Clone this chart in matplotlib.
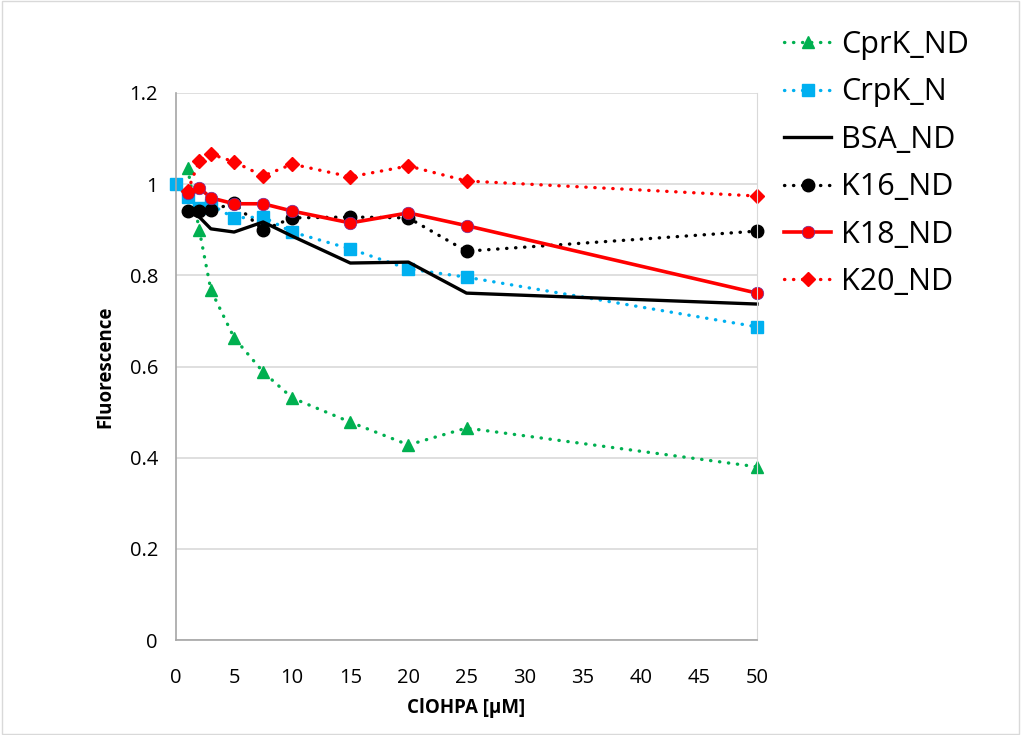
import matplotlib.pyplot as plt
from matplotlib.patches import Rectangle

plt.rcParams['font.family'] = ['Open Sans', 'DejaVu Sans']

x_main = [1, 2, 3, 5, 7.5, 10, 15, 20, 25, 50]
x_crpk = [0, 1, 2, 3, 5, 7.5, 10, 15, 20, 25, 50]

cprk_nd = [1.035, 0.90, 0.768, 0.663, 0.588, 0.531, 0.478, 0.428, 0.465, 0.38]
crpk_n = [1.0, 0.972, 0.948, 0.955, 0.926, 0.928, 0.895, 0.858, 0.814, 0.796, 0.687]
bsa_nd = [0.939, 0.928, 0.902, 0.895, 0.917, 0.886, 0.827, 0.829, 0.761, 0.737]
k16_nd = [0.941, 0.941, 0.943, 0.958, 0.899, 0.926, 0.928, 0.926, 0.853, 0.897]
k18_nd = [0.981, 0.992, 0.970, 0.957, 0.957, 0.941, 0.915, 0.937, 0.909, 0.761]
k20_nd = [0.985, 1.051, 1.066, 1.049, 1.018, 1.044, 1.016, 1.040, 1.007, 0.974]

fig = plt.figure(figsize=(10.21, 7.35), dpi=100)
ax = fig.add_axes([176 / 1021, 1 - 640 / 735, (757 - 176) / 1021, (640 - 93) / 735])

dot = dict(linestyle=(0, (0.1, 2.6)), dash_capstyle='round', linewidth=2.4, clip_on=False)

ax.plot(x_main, cprk_nd, color='#00B050', marker='^', markersize=9, label='CprK_ND', **dot)
ax.plot(x_crpk, crpk_n, color='#00B0F0', marker='s', markersize=9, label='CrpK_N', **dot)
ax.plot(x_main, bsa_nd, color='black', linewidth=2.4, label='BSA_ND', clip_on=False)
ax.plot(x_main, k16_nd, color='black', marker='o', markersize=9, label='K16_ND', **dot)
ax.plot(x_main, k18_nd, color='#FF0000', marker='o', markersize=9, markeredgecolor='#7030A0',
        markeredgewidth=0.5, linewidth=2.6, label='K18_ND', clip_on=False)
ax.plot(x_main, k20_nd, color='#FF0000', marker='D', markersize=7, label='K20_ND', **dot)

ax.set_xlim(0, 50)
ax.set_ylim(0, 1.2)
ax.set_xticks(range(0, 51, 5))
ax.set_yticks([0, 0.2, 0.4, 0.6, 0.8, 1.0, 1.2])
ax.set_yticklabels(['0', '0.2', '0.4', '0.6', '0.8', '1', '1.2'])
ax.yaxis.grid(True, color='#D9D9D9', linewidth=1.2)
ax.set_axisbelow(True)
ax.tick_params(length=0, labelsize=14.5)
ax.tick_params(axis='y', pad=13)
ax.tick_params(axis='x', pad=20)
ax.spines['top'].set_visible(False)
ax.spines['left'].set_color('#A6A6A6')
ax.spines['bottom'].set_color('#A6A6A6')
ax.spines['right'].set_color('#D9D9D9')
ax.spines['left'].set_linewidth(1.2)
ax.spines['bottom'].set_linewidth(1.2)

ax.set_xlabel('ClOHPA [µM]', fontsize=13.5, fontweight='bold', labelpad=7)
ax.set_ylabel('Fluorescence', fontsize=13.5, fontweight='bold', labelpad=10)

fig.legend(loc='upper left', bbox_to_anchor=(784 / 1021, 1 - 30 / 735), frameon=False,
           fontsize=22, handlelength=1.55, handletextpad=0.33, labelspacing=0.57,
           borderpad=0, borderaxespad=0)

fig.patches.append(Rectangle((0.002, 0.002), 0.996, 0.996, transform=fig.transFigure,
                             fill=False, edgecolor='#D9D9D9', linewidth=1))

fig.savefig('out.png', dpi=100)
